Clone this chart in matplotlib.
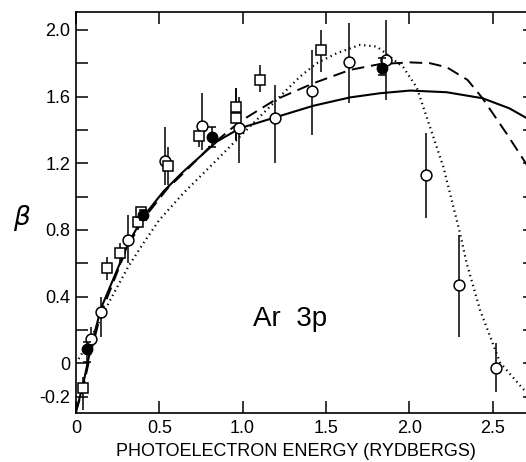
import matplotlib
matplotlib.use("Agg")
import matplotlib.pyplot as plt
from matplotlib.ticker import FixedLocator

plt.rcParams['font.family'] = ['Liberation Sans', 'DejaVu Sans']

# theory curves
solid_x = [0.0, 0.044, 0.09, 0.15, 0.314, 0.404, 0.524, 0.644, 0.845, 0.984,
           1.195, 1.425, 1.645, 1.825, 2.005, 2.225, 2.44, 2.60, 2.76]
solid_y = [-0.29, -0.12, 0.10, 0.33, 0.72, 0.88, 1.03, 1.15, 1.33, 1.41,
           1.475, 1.545, 1.595, 1.62, 1.636, 1.626, 1.59, 1.53, 1.44]

dash_x = [0.0, 0.044, 0.09, 0.15, 0.30, 0.40, 0.55, 0.644, 0.815, 0.984,
          1.195, 1.425, 1.645, 1.825, 2.005, 2.125, 2.225, 2.35, 2.44,
          2.585, 2.70, 2.76]
dash_y = [-0.29, -0.14, 0.07, 0.30, 0.68, 0.86, 1.05, 1.14, 1.31, 1.45,
          1.58, 1.68, 1.76, 1.795, 1.805, 1.80, 1.776, 1.70, 1.59,
          1.377, 1.20, 1.09]

dot_x = [0.0, 0.084, 0.2, 0.314, 0.404, 0.50, 0.644, 0.845, 0.924, 1.104,
         1.244, 1.345, 1.445, 1.565, 1.705, 1.805, 1.865, 1.965, 2.045, 2.125,
         2.205, 2.305, 2.345, 2.425, 2.545, 2.685, 2.76]
dot_y = [0.0, 0.14, 0.37, 0.58, 0.72, 0.86, 1.02, 1.22, 1.30, 1.48,
         1.62, 1.72, 1.80, 1.86, 1.91, 1.90, 1.855, 1.775, 1.655, 1.417,
         1.178, 0.78, 0.60, 0.32, 0.005, -0.155, -0.19]

# open circles
oc_x = [0.088, 0.148, 0.314, 0.534, 0.754, 0.978, 1.195, 1.416, 1.639, 1.859,
        2.099, 2.30, 2.52]
oc_y = [0.146, 0.31, 0.74, 1.215, 1.425, 1.41, 1.47, 1.635, 1.81, 1.82,
        1.13, 0.47, -0.03]
oc_lo = [0.08, 0.16, 0.60, 1.07, 1.28, 1.20, 1.20, 1.37, 1.56, 1.58,
         0.87, 0.16, -0.17]
oc_hi = [0.22, 0.40, 0.89, 1.42, 1.62, 1.60, 1.67, 1.88, 2.04, 2.06,
         1.38, 0.77, 0.125]

# open squares
sq_x = [0.04, 0.184, 0.264, 0.37, 0.39, 0.554, 0.74, 0.958, 0.958, 1.104, 1.469]
sq_y = [-0.15, 0.57, 0.66, 0.846, 0.91, 1.185, 1.365, 1.54, 1.47, 1.70, 1.88]
sq_lo = [-0.28, 0.50, 0.59, 0.80, 0.88, 1.07, 1.30, 1.34, 1.34, 1.63, 1.75]
sq_hi = [-0.08, 0.64, 0.72, 0.89, 0.94, 1.30, 1.42, 1.65, 1.65, 1.79, 2.00]

# filled circles
fc_x = [0.068, 0.40, 0.818, 1.838]
fc_y = [0.084, 0.89, 1.355, 1.77]
fc_lo = [0.01, 0.86, 1.30, 1.73]
fc_hi = [0.13, 0.92, 1.42, 1.83]

y_ticks = [-0.2, 0.0, 0.2, 0.4, 0.6, 0.8, 1.0, 1.2, 1.4, 1.6, 1.8, 2.0]
y_labels = ['-0.2', '0', '', '0.4', '', '0.8', '', '1.2', '', '1.6', '', '2.0']
x_ticks = [0.0, 0.5, 1.0, 1.5, 2.0, 2.5]
x_labels = ['0', '0.5', '1.0', '1.5', '2.0', '2.5']

fig = plt.figure(figsize=(5.26, 4.62), dpi=100)
ax = fig.add_axes([76 / 526, 49.3 / 462, 459 / 526, 401 / 462])

ax.plot(solid_x, solid_y, color='black', lw=1.5, zorder=2)
ax.plot(dash_x, dash_y, color='black', lw=1.4, dashes=(6.5, 3.5), zorder=2)
ax.plot(dot_x, dot_y, color='black', lw=1.6, linestyle=(0, (0.6, 1.7)),
        zorder=2)


def errs(y, lo, hi):
    return [[a - b for a, b in zip(y, lo)], [b - a for a, b in zip(y, hi)]]


ax.errorbar(oc_x, oc_y, yerr=errs(oc_y, oc_lo, oc_hi), fmt='o', ms=7.8,
            mfc='white', mec='black', mew=1.1, ecolor='black', elinewidth=1.1,
            capsize=0, zorder=4)
ax.errorbar(sq_x, sq_y, yerr=errs(sq_y, sq_lo, sq_hi), fmt='s', ms=6.5,
            mfc='white', mec='black', mew=1.1, ecolor='black', elinewidth=1.1,
            capsize=0, zorder=4)
ax.errorbar(fc_x, fc_y, yerr=errs(fc_y, fc_lo, fc_hi), fmt='o', ms=7.5,
            mfc='black', mec='black', ecolor='black', elinewidth=1.1,
            capsize=3, capthick=1.1, zorder=5)

ax.set_xlim(0, 2.755)
ax.set_ylim(-0.296, 2.109)

ax.xaxis.set_major_locator(FixedLocator(x_ticks))
ax.set_xticklabels(x_labels)
ax.yaxis.set_major_locator(FixedLocator(y_ticks))
ax.set_yticklabels(y_labels)
ax.tick_params(direction='in', length=8.5, width=1.1, labelsize=13,
               top=True, right=True, pad=4)
ax.tick_params(axis='x', pad=5)

for s in ax.spines.values():
    s.set_linewidth(1.2)

ax.text(1.06, 0.266, 'Ar  3p', fontsize=20, va='center', ha='left')

fig.text(295.5 / 526, 1 - 451 / 462, 'PHOTOELECTRON ENERGY (RYDBERGS)',
         fontsize=13, ha='center', va='center')
fig.text(21 / 526, 1 - 218 / 462, 'β', fontsize=19, style='italic',
         family='DejaVu Sans', ha='center', va='center')

fig.savefig('out.png', dpi=100)
